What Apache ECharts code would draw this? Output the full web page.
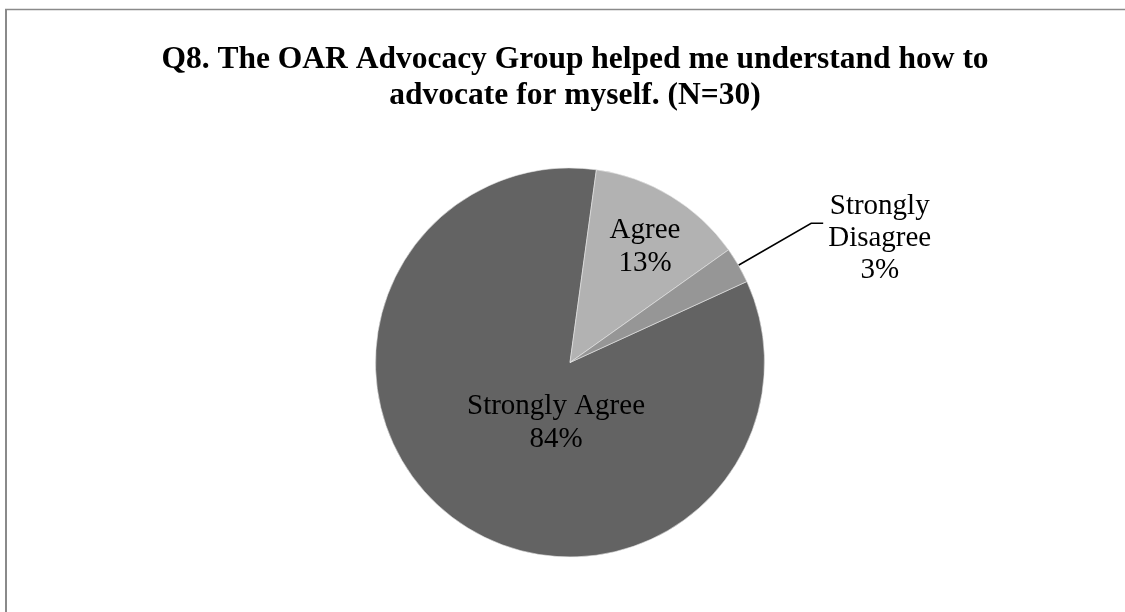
<!DOCTYPE html>
<html>
<head>
<meta charset="utf-8">
<style>
  html, body { margin: 0; padding: 0; background: #ffffff; }
  #chart { width: 1125px; height: 612px; }
</style>
<script src="https://cdn.jsdelivr.net/npm/echarts@6/dist/echarts.min.js"></script>
</head>
<body>
<div id="chart"></div>
<script>
// Survey responses (percent of respondents)
const categories = ['Strongly Agree', 'Agree', 'Strongly Disagree'];
const percents = [84, 13, 3];
const sliceColors = ['#636363', '#b2b2b2', '#969696'];
const titleLines = [
  'Q8. The OAR Advocacy Group helped me understand how to',
  'advocate for myself. (N=30)'
];

const SERIF = "'Liberation Serif', 'Times New Roman', serif";
const CENTER = [570, 362.5];
const RADIUS = 194.5;
// offsets (from the pie centre) for the labels drawn inside their slices
const insideLabelOffset = { 0: [-14, 60], 1: [75, -116] };

const chart = echarts.init(document.getElementById('chart'), null, { renderer: 'canvas' });

const data = categories.map((name, i) => {
  const item = {
    name: name,
    value: percents[i],
    itemStyle: { color: sliceColors[i] }
  };
  if (insideLabelOffset[i] === undefined) {
    // small slice: label outside with a leader line, lines centred in the block
    item.label = {
      show: true,
      position: 'outside',
      padding: [30, 0, 0, 0],
      formatter: (p) => p.name.split(' ').map(w => '{c|' + w + '}').join('\n') + '\n{c|' + p.value + '%}',
      rich: {
        c: { align: 'center', fontFamily: SERIF, fontSize: 29, lineHeight: 32, color: '#000' }
      }
    };
    item.labelLine = { show: true, length: 84, length2: 12, lineStyle: { color: '#000', width: 1.5 } };
  } else {
    item.label = { show: true, position: 'inside' };
    item.labelLine = { show: false };
  }
  return item;
});

chart.setOption({
  backgroundColor: '#ffffff',
  animation: false,
  title: {
    text: titleLines.join('\n'),
    left: 570,
    top: 37,
    textAlign: 'center',
    textStyle: {
      fontFamily: SERIF,
      fontSize: 31.5,
      fontWeight: 'bold',
      color: '#000',
      lineHeight: 36
    }
  },
  graphic: [
    { type: 'line', shape: { x1: 6, y1: 9, x2: 6, y2: 620 }, style: { stroke: '#8a8a8a', lineWidth: 2 } },
    { type: 'line', shape: { x1: 5, y1: 9.5, x2: 1130, y2: 9.5 }, style: { stroke: '#8a8a8a', lineWidth: 1.3 } }
  ],
  series: [{
    type: 'pie',
    center: CENTER,
    radius: RADIUS,
    startAngle: 24.6,
    clockwise: true,
    avoidLabelOverlap: false,
    itemStyle: { borderColor: '#e8e8e8', borderWidth: 0.6 },
    label: {
      fontFamily: SERIF,
      fontSize: 29,
      lineHeight: 33,
      color: '#000',
      formatter: '{b}\n{c}%'
    },
    labelLayout: function (params) {
      const off = insideLabelOffset[params.dataIndex];
      if (!off) return {};
      return {
        x: CENTER[0] + off[0],
        y: CENTER[1] + off[1],
        align: 'center',
        verticalAlign: 'middle'
      };
    },
    data: data
  }]
});
</script>
</body>
</html>
